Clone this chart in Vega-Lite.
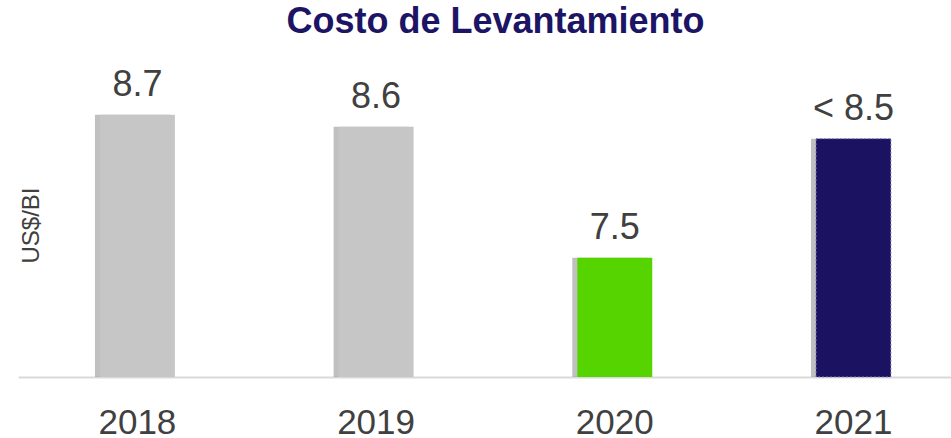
{
  "$schema": "https://vega.github.io/schema/vega-lite/v6.json",
  "autosize": "none",
  "width": 933,
  "height": 317,
  "padding": {"left": 18, "top": 60, "right": 0, "bottom": 61},
  "background": "white",
  "view": {"stroke": null},
  "title": {
    "text": "Costo de Levantamiento",
    "font": "Liberation Sans",
    "fontSize": 36,
    "fontWeight": "bold",
    "color": "#1c1464",
    "anchor": "middle",
    "frame": "group",
    "dx": 11,
    "baseline": "alphabetic",
    "offset": -9
  },
  "data": {
    "values": [
      {"year": "2018", "value": 8.7, "label": "8.7", "kind": "hist"},
      {"year": "2019", "value": 8.6, "label": "8.6", "kind": "hist"},
      {"year": "2020", "value": 7.5, "label": "7.5", "kind": "actual"},
      {"year": "2021", "value": 8.5, "label": "< 8.5", "kind": "target"}
    ]
  },
  "encoding": {
    "x": {
      "field": "year",
      "type": "nominal",
      "sort": null,
      "scale": {"paddingInner": 0.686, "paddingOuter": 0.2975, "align": 0.577},
      "axis": {
        "title": null,
        "labelAngle": 0,
        "labelFont": "Liberation Sans",
        "labelFontSize": 35,
        "labelColor": "#404040",
        "labelBaseline": "alphabetic",
        "labelPadding": 56,
        "ticks": false,
        "tickSize": 0,
        "domainColor": "#d9d9d9",
        "domainWidth": 2
      }
    },
    "y": {
      "field": "value",
      "type": "quantitative",
      "scale": {"domain": [6.5, 9.16], "zero": false, "nice": false},
      "axis": {
        "title": "US$/BI",
        "titleFont": "Liberation Sans",
        "titleFontSize": 24,
        "titleFontWeight": "normal",
        "titleColor": "#404040",
        "titleAngle": -90,
        "titleAlign": "center",
        "titleBaseline": "alphabetic",
        "titleX": 20,
        "titleY": 165,
        "labels": false,
        "ticks": false,
        "domain": false,
        "grid": false
      }
    }
  },
  "layer": [
    {
      "mark": {"type": "bar", "xOffset": -5, "color": "#8c8c8c", "opacity": 0.55},
      "encoding": {"y2": {"datum": 6.5}}
    },
    {
      "mark": {"type": "bar", "strokeWidth": 1, "strokeDash": [2, 2]},
      "encoding": {
        "y2": {"datum": 6.5},
        "color": {
          "field": "kind",
          "type": "nominal",
          "scale": {"domain": ["hist", "actual", "target"], "range": ["#c6c6c6", "#55d400", "#1c1262"]},
          "legend": null
        },
        "stroke": {
          "condition": {"test": "datum.kind === 'target'", "value": "#8a8ac0"},
          "value": "transparent"
        }
      }
    },
    {
      "mark": {"type": "text", "font": "Liberation Sans", "fontSize": 36, "color": "#404040", "baseline": "alphabetic", "dy": -19},
      "encoding": {"text": {"field": "label"}}
    }
  ]
}
